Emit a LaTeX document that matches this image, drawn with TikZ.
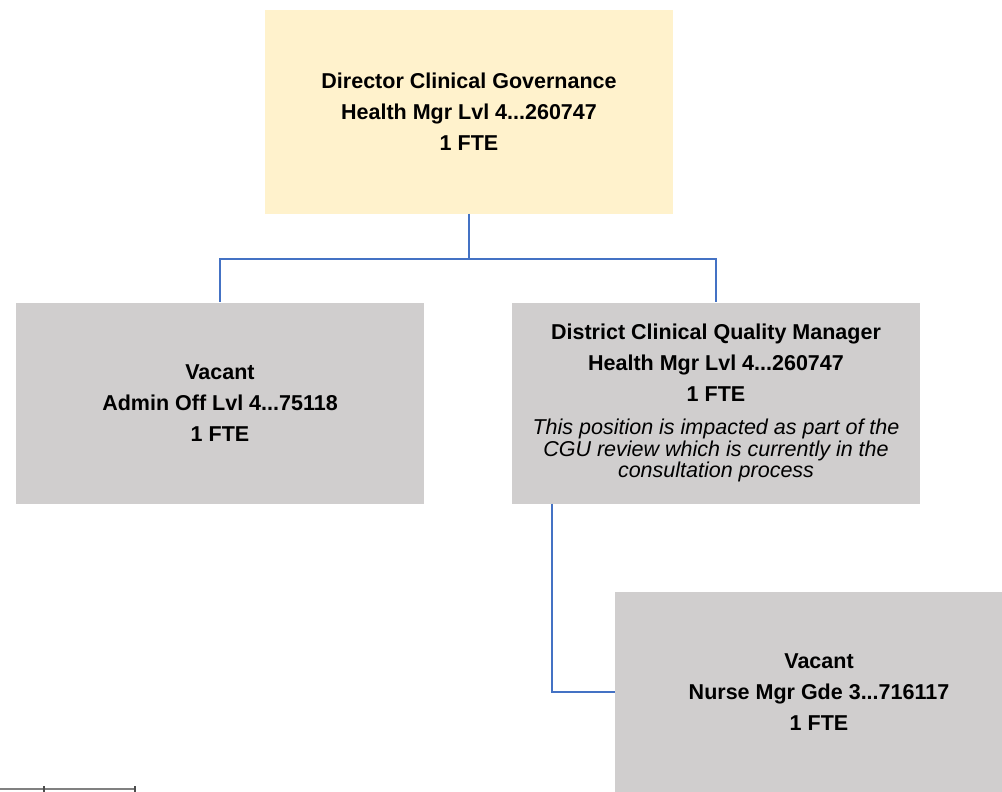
\documentclass[tikz,border=0pt]{standalone}
\usepackage{fontspec}
\setmainfont{Liberation Sans}
\definecolor{headfill}{RGB}{255,242,204}
\definecolor{postgray}{RGB}{208,206,206}
\definecolor{linkblue}{RGB}{68,114,196}
\tikzset{
  post/.style={rectangle, fill=postgray, minimum width=408pt, minimum height=201pt,
    inner sep=0pt, align=center, font=\bfseries\fontsize{21.5}{31}\selectfont},
  link/.style={draw=linkblue, line width=2pt},
}
\begin{document}
\begin{tikzpicture}[x=1pt,y=-1pt]
    % page frame
    \useasboundingbox (0,0) rectangle (1002,792);
    \fill[white] (0,0) rectangle (1002,792);

    % positions
    \node[post, fill=headfill, minimum height=203pt] (dir) at (469,112)
      {Director Clinical Governance\\ Health Mgr Lvl 4...260747\\ 1 FTE};
    \node[post] (admin) at (220,403)
      {Vacant\\ Admin Off Lvl 4...75118\\ 1 FTE};
    \node[post] (dcqm) at (716,403)
      {District Clinical Quality Manager\\ Health Mgr Lvl 4...260747\\ 1 FTE\\[2pt]
       \parbox[t]{400pt}{\centering\mdseries\itshape\fontsize{21.5}{21.5}\selectfont
       This position is impacted as part of the\\ CGU review which is currently in the\\ consultation process}};
    \node[post] (nurse) at (819,692)
      {Vacant\\ Nurse Mgr Gde 3...716117\\ 1 FTE};

    % reporting lines
    \draw[link] (dir.south) -- ++(0,45) coordinate (split);
    \draw[link] (split) -| (admin.north);
    \draw[link] (split) -| (dcqm.north);
    \draw[link] ([xshift=-164pt]dcqm.south) |- (nurse.west);

    % table edge at the bottom left
    \draw[gray, line width=1.5pt] (0,789) -- (135,789);
    \draw[black!70, line width=1.5pt] (44,786) -- (44,792);
    \draw[black!70, line width=1.5pt] (135,786) -- (135,792);
\end{tikzpicture}
\end{document}
